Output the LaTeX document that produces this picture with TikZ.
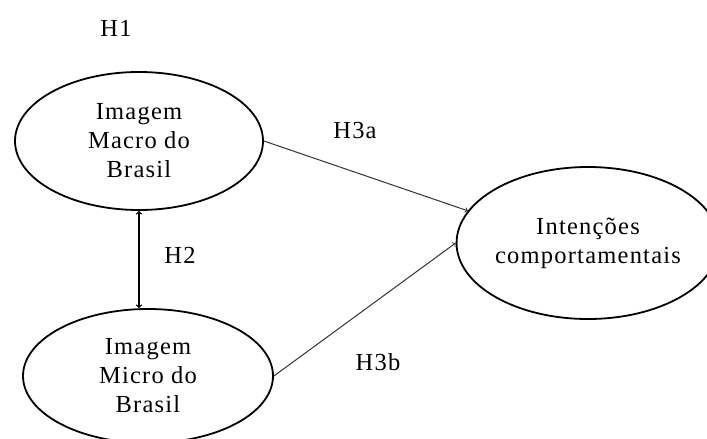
\documentclass[tikz,border=0pt]{standalone}
\usepackage{fontspec}
\setmainfont{Liberation Serif}[LetterSpace=5]
\usetikzlibrary{shapes.geometric}

\begin{document}
\begin{tikzpicture}[x=1pt, y=-1pt, >=to,
    construto/.style={ellipse, draw, line width=1.8pt, inner sep=0pt, align=center,
      font=\fontsize{24.5}{29}\selectfont},
    hipotese/.style={font=\fontsize{24.5}{29}\selectfont},
    caminho/.style={->, line width=1pt, black!80}]
  \useasboundingbox (0,0) rectangle (707,439);

  % Constructs
  \node[construto, minimum width=248pt, minimum height=138pt] (macro) at (139,141) {Imagem\\Macro do\\Brasil};
  \node[construto, minimum width=250pt, minimum height=134pt] (micro) at (148,376) {Imagem\\Micro do\\Brasil};
  \node[construto, minimum width=238pt, minimum height=152pt] (intencoes) at (588,243) {Intenções\\comportamentais};

  % Paths
  \draw[caminho, <->, line width=1.3pt, black] (macro.south) -- (macro.south |- micro.north);
  \draw[caminho] (macro.east) -- (intencoes.165);
  \draw[caminho] (micro.east) -- (intencoes.west);

  % Hypotheses
  \node[hipotese] (h1) at (116,28) {H1};
  \node[hipotese] (h2) at (180,255) {H2};
  \node[hipotese] (h3a) at (355,131) {H3a};
  \node[hipotese] (h3b) at (378,362) {H3b};
\end{tikzpicture}
\end{document}
